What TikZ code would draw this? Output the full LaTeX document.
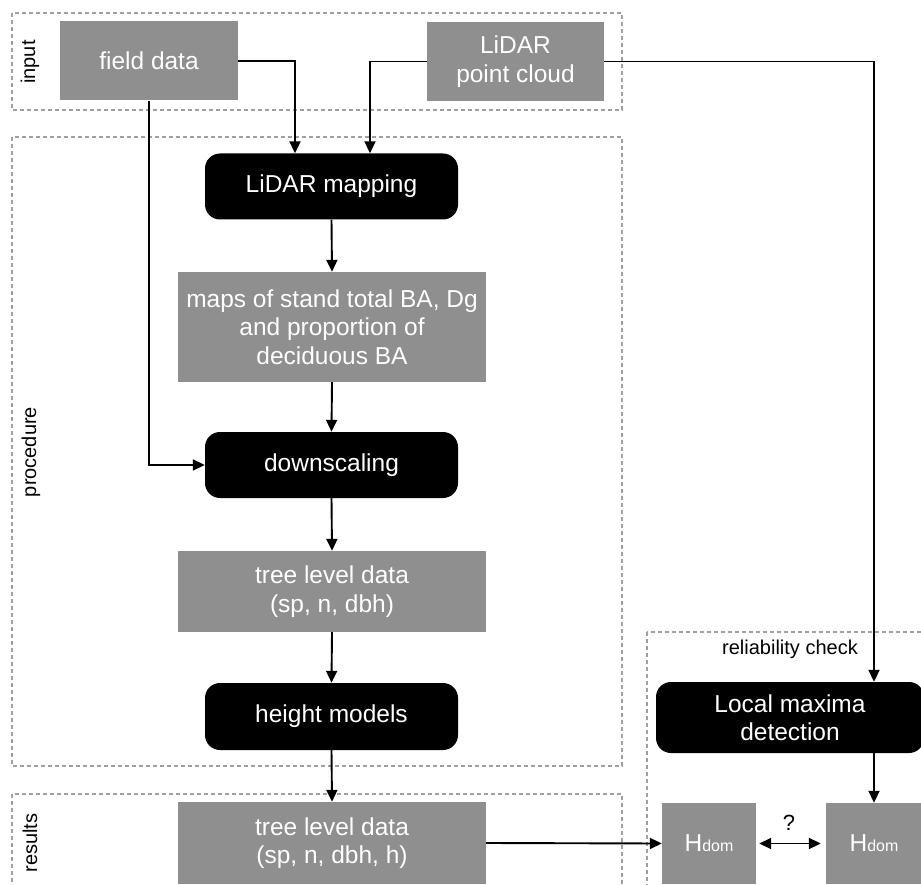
\documentclass[tikz,border=0pt]{standalone}
\usepackage{fontspec}
\setmainfont{Liberation Sans}
\usetikzlibrary{arrows.meta}
\definecolor{boxgray}{HTML}{8F8F8F}
\definecolor{dashgray}{HTML}{A0A0A0}
\begin{document}
\begin{tikzpicture}[x=1pt,y=-1pt,
  graybox/.style={fill=boxgray,draw=none,text=white,align=center,
    font=\fontsize{24.5}{28.5}\selectfont,inner sep=0pt},
  blackbox/.style={fill=black,draw=none,rounded corners=15pt,text=white,align=center,
    font=\fontsize{24.5}{28.5}\selectfont,inner sep=0pt},
  group/.style={draw=dashgray,line width=1.5pt,dash pattern=on 4pt off 3pt},
  grouplabel/.style={font=\fontsize{20}{24}\selectfont,inner sep=0pt},
  arr/.style={line width=1.9pt,-{Triangle[length=12pt,width=11pt]}},
  darr/.style={line width=1.9pt,{Triangle[length=12pt,width=11pt]}-{Triangle[length=12pt,width=11pt]}}]
\useasboundingbox (0,0) rectangle (921,885);
\clip (0,0) rectangle (921,885);
\fill[white] (0,0) rectangle (921,885);

% groups
\draw[group] (12,13) rectangle (622,110);
\draw[group] (12,137) rectangle (622,766);
\draw[group] (12,794) rectangle (622,905);
\draw[group] (647,632) rectangle (945,905);
\node[grouplabel,rotate=90] (linput) at (30,62) {input};
\node[grouplabel,rotate=90] (lproc) at (31,452) {procedure};
\node[grouplabel,rotate=90] (lres) at (30,843) {results};
\node[grouplabel] (lrel) at (790,649) {reliability check};

% nodes
\node[graybox,minimum width=178pt,minimum height=79pt] (fd) at (149,61) {field data};
\node[graybox,minimum width=177pt,minimum height=79pt] (lpc) at (515.5,61.5) {LiDAR\\point cloud};
\node[blackbox,minimum width=253pt,minimum height=66pt] (lm) at (331.5,186.5) {LiDAR mapping};
\node[graybox,minimum width=308pt,minimum height=110pt] (maps) at (332,327) {maps of stand total BA, Dg\\and proportion of\\deciduous BA};
\node[blackbox,minimum width=253pt,minimum height=66pt] (ds) at (331.5,465) {downscaling};
\node[graybox,minimum width=308pt,minimum height=81pt] (t1) at (332,591.5) {tree level data\\(sp, n, dbh)};
\node[blackbox,minimum width=253pt,minimum height=67pt] (hm) at (331.5,716.5) {height models};
\node[graybox,minimum width=308pt,minimum height=82pt] (t2) at (332,843) {tree level data\\(sp, n, dbh, h)};
\node[blackbox,minimum width=268pt,minimum height=71pt] (lmd) at (790,717.5) {Local maxima\\detection};
\node[graybox,minimum width=94pt,minimum height=81pt] (h1) at (709,843.5) {H{\fontsize{16}{16}\selectfont dom}};
\node[graybox,minimum width=96pt,minimum height=81pt] (h2) at (874,843.5) {H{\fontsize{16}{16}\selectfont dom}};
\node[font=\fontsize{22}{24}\selectfont,inner sep=0pt] (q) at (789,823) {?};

% connectors
\draw[arr] (fd.east) -| ([xshift=-36.5pt]lm.north);
\draw[arr] (lpc.west) -| ([xshift=38.5pt]lm.north);
\draw[arr] (lpc.east) -| (lmd.north -| h2.north);
\draw[arr] (fd.south) |- (ds.west);
\draw[arr] (lm.south) -- (maps.north);
\draw[arr] (maps.south) -- (ds.north);
\draw[arr] (ds.south) -- (t1.north);
\draw[arr] (t1.south) -- (hm.north);
\draw[arr] (hm.south) -- (t2.north);
\draw[arr] (t2.east) -- (h1.west);
\draw[arr] (lmd.south -| h2.north) -- (h2.north);
\draw[darr,shorten <=3pt,shorten >=5pt] (h1.east) -- (h2.west);
\end{tikzpicture}
\end{document}
